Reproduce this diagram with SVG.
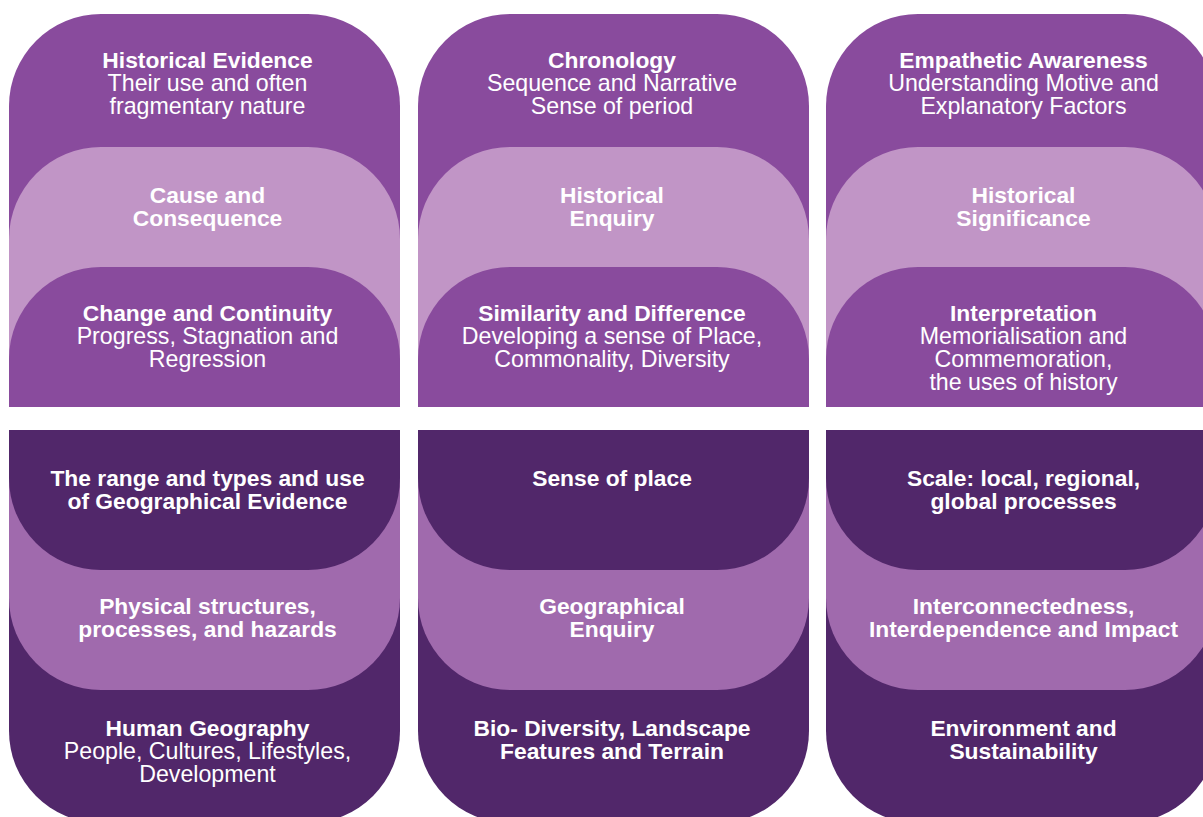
<svg xmlns="http://www.w3.org/2000/svg" width="1203" height="817" viewBox="0 0 1203 817">
  <style>
    .hd { fill: #894B9D; }
    .hl { fill: #C195C6; }
    .gd { fill: #51276A; }
    .gl { fill: #A06AAD; }
    text { font-family: "Liberation Sans", Arial, sans-serif; font-size: 23.2px; fill: #FFFFFF; text-anchor: middle; }
    .b { font-weight: bold; font-size: 22.8px; }
  </style>
  <rect width="1203" height="817" fill="#FFFFFF"/>

  <!-- History: three columns, rounded tops -->
  <g id="history-col1">
    <g id="historical-evidence">
      <path class="hd" d="M9 407 V106 A92 92 0 0 1 101 14 H308 A92 92 0 0 1 400 106 V407 Z"/>
      <text x="207.5" y="68" class="b">Historical Evidence</text>
      <text x="207.5" y="91">Their use and often</text>
      <text x="207.5" y="114">fragmentary nature</text>
    </g>
    <g id="cause-consequence">
      <path class="hl" d="M9 407 V239 A92 92 0 0 1 101 147 H308 A92 92 0 0 1 400 239 V407 Z"/>
      <text x="207.5" y="203" class="b">Cause and</text>
      <text x="207.5" y="226" class="b">Consequence</text>
    </g>
    <g id="change-continuity">
      <path class="hd" d="M9 407 V359 A92 92 0 0 1 101 267 H308 A92 92 0 0 1 400 359 V407 Z"/>
      <text x="207.5" y="321" class="b">Change and Continuity</text>
      <text x="207.5" y="344">Progress, Stagnation and</text>
      <text x="207.5" y="367">Regression</text>
    </g>
  </g>

  <g id="history-col2">
    <g id="chronology">
      <path class="hd" d="M418 407 V106 A92 92 0 0 1 510 14 H717 A92 92 0 0 1 809 106 V407 Z"/>
      <text x="612" y="68" class="b">Chronology</text>
      <text x="612" y="91">Sequence and Narrative</text>
      <text x="612" y="114">Sense of period</text>
    </g>
    <g id="historical-enquiry">
      <path class="hl" d="M418 407 V239 A92 92 0 0 1 510 147 H717 A92 92 0 0 1 809 239 V407 Z"/>
      <text x="612" y="203" class="b">Historical</text>
      <text x="612" y="226" class="b">Enquiry</text>
    </g>
    <g id="similarity-difference">
      <path class="hd" d="M418 407 V359 A92 92 0 0 1 510 267 H717 A92 92 0 0 1 809 359 V407 Z"/>
      <text x="612" y="321" class="b">Similarity and Difference</text>
      <text x="612" y="344">Developing a sense of Place,</text>
      <text x="612" y="367">Commonality, Diversity</text>
    </g>
  </g>

  <g id="history-col3">
    <g id="empathetic-awareness">
      <path class="hd" d="M826 407 V106 A92 92 0 0 1 918 14 H1125 A92 92 0 0 1 1217 106 V407 Z"/>
      <text x="1023.5" y="68" class="b">Empathetic Awareness</text>
      <text x="1023.5" y="91">Understanding Motive and</text>
      <text x="1023.5" y="114">Explanatory Factors</text>
    </g>
    <g id="historical-significance">
      <path class="hl" d="M826 407 V239 A92 92 0 0 1 918 147 H1125 A92 92 0 0 1 1217 239 V407 Z"/>
      <text x="1023.5" y="203" class="b">Historical</text>
      <text x="1023.5" y="226" class="b">Significance</text>
    </g>
    <g id="interpretation">
      <path class="hd" d="M826 407 V359 A92 92 0 0 1 918 267 H1125 A92 92 0 0 1 1217 359 V407 Z"/>
      <text x="1023.5" y="321" class="b">Interpretation</text>
      <text x="1023.5" y="344">Memorialisation and</text>
      <text x="1023.5" y="367">Commemoration,</text>
      <text x="1023.5" y="390">the uses of history</text>
    </g>
  </g>

  <!-- Geography: three columns, rounded bottoms -->
  <g id="geography-col1">
    <g id="human-geography">
      <path class="gd" d="M9 430 V731 A92 92 0 0 0 101 823 H308 A92 92 0 0 0 400 731 V430 Z"/>
      <text x="207.5" y="736" class="b">Human Geography</text>
      <text x="207.5" y="759">People, Cultures, Lifestyles,</text>
      <text x="207.5" y="782">Development</text>
    </g>
    <g id="physical-structures">
      <path class="gl" d="M9 430 V598 A92 92 0 0 0 101 690 H308 A92 92 0 0 0 400 598 V430 Z"/>
      <text x="207.5" y="614" class="b">Physical structures,</text>
      <text x="207.5" y="637" class="b">processes, and hazards</text>
    </g>
    <g id="geographical-evidence">
      <path class="gd" d="M9 430 V478 A92 92 0 0 0 101 570 H308 A92 92 0 0 0 400 478 V430 Z"/>
      <text x="207.5" y="486" class="b">The range and types and use</text>
      <text x="207.5" y="509" class="b">of Geographical Evidence</text>
    </g>
  </g>

  <g id="geography-col2">
    <g id="biodiversity">
      <path class="gd" d="M418 430 V731 A92 92 0 0 0 510 823 H717 A92 92 0 0 0 809 731 V430 Z"/>
      <text x="612" y="736" class="b">Bio- Diversity, Landscape</text>
      <text x="612" y="759" class="b">Features and Terrain</text>
    </g>
    <g id="geographical-enquiry">
      <path class="gl" d="M418 430 V598 A92 92 0 0 0 510 690 H717 A92 92 0 0 0 809 598 V430 Z"/>
      <text x="612" y="614" class="b">Geographical</text>
      <text x="612" y="637" class="b">Enquiry</text>
    </g>
    <g id="sense-of-place">
      <path class="gd" d="M418 430 V478 A92 92 0 0 0 510 570 H717 A92 92 0 0 0 809 478 V430 Z"/>
      <text x="612" y="486" class="b">Sense of place</text>
    </g>
  </g>

  <g id="geography-col3">
    <g id="environment-sustainability">
      <path class="gd" d="M826 430 V731 A92 92 0 0 0 918 823 H1125 A92 92 0 0 0 1217 731 V430 Z"/>
      <text x="1023.5" y="736" class="b">Environment and</text>
      <text x="1023.5" y="759" class="b">Sustainability</text>
    </g>
    <g id="interconnectedness">
      <path class="gl" d="M826 430 V598 A92 92 0 0 0 918 690 H1125 A92 92 0 0 0 1217 598 V430 Z"/>
      <text x="1023.5" y="614" class="b">Interconnectedness,</text>
      <text x="1023.5" y="637" class="b">Interdependence and Impact</text>
    </g>
    <g id="scale">
      <path class="gd" d="M826 430 V478 A92 92 0 0 0 918 570 H1125 A92 92 0 0 0 1217 478 V430 Z"/>
      <text x="1023.5" y="486" class="b">Scale: local, regional,</text>
      <text x="1023.5" y="509" class="b">global processes</text>
    </g>
  </g>

  <!-- no connectors in this layout -->
  <g id="connectors"/>
</svg>
